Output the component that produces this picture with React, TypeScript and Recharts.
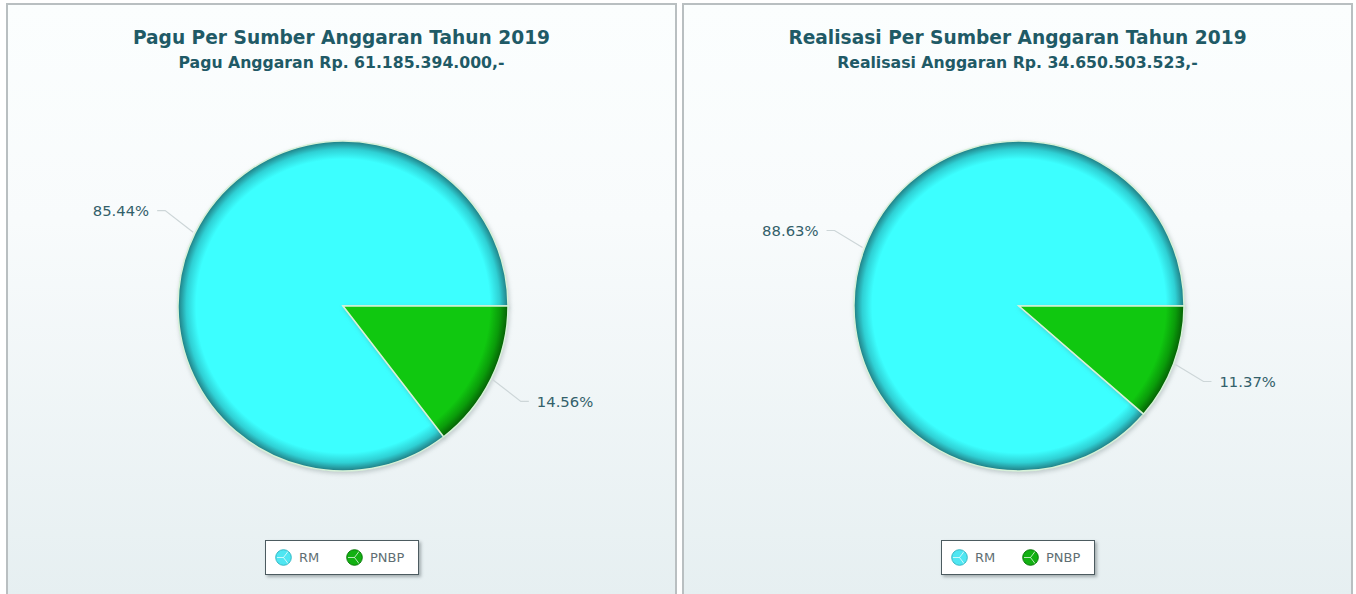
import { PieChart, Pie, Cell, Legend } from "recharts";

const sourceNames = ["RM", "PNBP"];
const paguValues = [85.44, 14.56];
const realisasiValues = [88.63, 11.37];

const paguTitle = "Pagu Per Sumber Anggaran Tahun 2019";
const paguSubtitle = "Pagu Anggaran Rp. 61.185.394.000,-";
const realisasiTitle = "Realisasi Per Sumber Anggaran Tahun 2019";
const realisasiSubtitle = "Realisasi Anggaran Rp. 34.650.503.523,-";

const FONT = "'DejaVu Sans', Verdana, sans-serif";
const TEXT_COLOR = "#1f5a66";
const RADIUS = 165;
const PANEL_W = 670;
const PANEL_H = 620;
const CX = 335;
const CY = 301;
const SLICE_SHADOW = "drop-shadow(1px 2px 2px rgba(90,110,110,0.3))";

const RADIANS = Math.PI / 180;

function edgePoints(props: any) {
  const { cx, cy, midAngle, outerRadius } = props;
  const cos = Math.cos(-midAngle * RADIANS);
  const sin = Math.sin(-midAngle * RADIANS);
  const side = cos >= 0 ? 1 : -1;
  const x0 = cx + (outerRadius + 2) * cos;
  const y0 = cy + (outerRadius + 2) * sin;
  const x1 = x0 + side * 28;
  const y1 = y0 + 49 * sin;
  const x2 = x1 + side * 8;
  return { x0, y0, x1, y1, x2, side };
}

function SliceLabel(props: any) {
  const { x2, y1, side } = edgePoints(props);
  return (
    <text
      x={x2 + side * 8}
      y={y1}
      textAnchor={side > 0 ? "start" : "end"}
      dominantBaseline="central"
      fontFamily={FONT}
      fontSize={14.8}
      fill="#33606a"
    >
      {props.value.toFixed(2)}%
    </text>
  );
}

function SliceLine(props: any) {
  const { x0, y0, x1, y1, x2 } = edgePoints(props);
  return <polyline points={`${x0},${y0} ${x1},${y1} ${x2},${y1}`} fill="none" stroke="#cdd6d8" strokeWidth={1.2} />;
}

function LegendIcon({ color, dark }: { color: string; dark: string }) {
  return (
    <svg width={17} height={17} viewBox="0 0 17 17">
      <circle cx={8.5} cy={8.5} r={7.8} fill={color} stroke={dark} strokeWidth={1} />
      <path d="M8.5 8.5 L13 2.5 M8.5 8.5 L13 14.5 M8.5 8.5 L2 8.5" stroke="#ffffff" strokeOpacity={0.7} strokeWidth={1} />
    </svg>
  );
}

function LegendBox() {
  return (
    <div
      style={{
        width: 154,
        height: 35,
        boxSizing: "border-box",
        background: "#fff",
        border: "1px solid #4c5b60",
        boxShadow: "2px 2px 3px rgba(80,90,95,0.45)",
        display: "flex",
        alignItems: "center",
        paddingLeft: 9,
        fontFamily: FONT,
        fontSize: 13,
        color: "#5f6f74",
      }}
    >
      <LegendIcon color="#4fe6f2" dark="#35b8c4" />
      <span style={{ marginLeft: 7, width: 47 }}>{sourceNames[0]}</span>
      <LegendIcon color="#12b012" dark="#0a7a0a" />
      <span style={{ marginLeft: 7 }}>{sourceNames[1]}</span>
    </div>
  );
}

function SourcePie({ id, title, subtitle, values, left, width }: { id: string; title: string; subtitle: string; values: number[]; left: number; width: number }) {
  const rows = sourceNames.map((name, i) => ({ name, value: values[i] }));
  return (
    <div
      style={{
        position: "absolute",
        left,
        top: 3,
        width,
        height: PANEL_H,
        boxSizing: "border-box",
        border: "2px solid #b9bfc1",
        background: "linear-gradient(#fbfefe 0%, #f8fbfc 35%, #e6eff1 96%)",
      }}
    >
      <div style={{ position: "absolute", left: 0, width: "100%", top: 22, textAlign: "center", fontFamily: FONT, fontWeight: "bold", fontSize: 18.6, color: TEXT_COLOR, whiteSpace: "nowrap" }}>
        {title}
      </div>
      <div style={{ position: "absolute", left: 0, width: "100%", top: 48, textAlign: "center", fontFamily: FONT, fontWeight: "bold", fontSize: 15.7, color: TEXT_COLOR, whiteSpace: "nowrap" }}>
        {subtitle}
      </div>
      <div style={{ position: "absolute", left: 0, top: 0 }}>
        <PieChart width={PANEL_W} height={PANEL_H} margin={{ top: 0, right: 0, bottom: 0, left: 0 }}>
          <defs>
            <radialGradient id={`${id}-rm`} gradientUnits="userSpaceOnUse" cx={CX} cy={CY} r={RADIUS}>
              <stop offset="0.89" stopColor="#3cffff" />
              <stop offset="0.95" stopColor="#2fd0d4" />
              <stop offset="1" stopColor="#207c82" />
            </radialGradient>
            <radialGradient id={`${id}-pnbp`} gradientUnits="userSpaceOnUse" cx={CX} cy={CY} r={RADIUS}>
              <stop offset="0.89" stopColor="#10c810" />
              <stop offset="0.95" stopColor="#0a9c0a" />
              <stop offset="1" stopColor="#055f05" />
            </radialGradient>
          </defs>
          <Pie
            data={rows}
            dataKey="value"
            nameKey="name"
            cx={CX}
            cy={CY}
            innerRadius={0}
            outerRadius={RADIUS}
            startAngle={0}
            endAngle={360}
            stroke="#d6f2d8"
            strokeWidth={1.5}
            label={SliceLabel}
            labelLine={SliceLine}
            isAnimationActive={false}
          >
            <Cell fill={`url(#${id}-rm)`} style={{ filter: SLICE_SHADOW }} />
            <Cell fill={`url(#${id}-pnbp)`} style={{ filter: SLICE_SHADOW }} />
          </Pie>
          <Legend content={<LegendBox />} wrapperStyle={{ left: 257, top: 535, width: 154, bottom: "auto" }} />
        </PieChart>
      </div>
    </div>
  );
}

export default function App() {
  return (
    <div style={{ position: "absolute", left: 0, top: 0, width: 1356, height: 594, overflow: "hidden", background: "#ffffff" }}>
      <SourcePie id="pagu" title={paguTitle} subtitle={paguSubtitle} values={paguValues} left={6} width={671} />
      <SourcePie id="realisasi" title={realisasiTitle} subtitle={realisasiSubtitle} values={realisasiValues} left={682} width={671} />
    </div>
  );
}
